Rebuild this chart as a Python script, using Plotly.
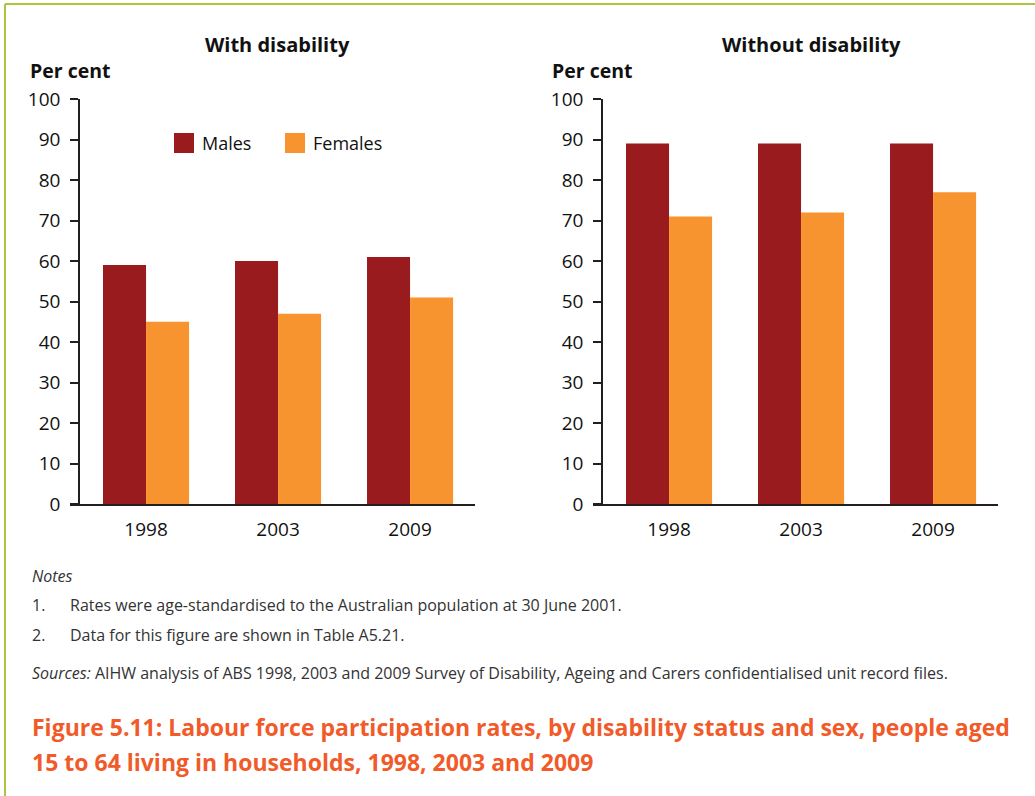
import plotly.graph_objects as go

# ---- data ----
years = ["1998", "2003", "2009"]
with_dis_males = [59, 60, 61]
with_dis_females = [45, 47, 51]
without_dis_males = [89, 89, 89]
without_dis_females = [71, 72, 77]
y_ticks = [0, 10, 20, 30, 40, 50, 60, 70, 80, 90, 100]

W, H = 1035, 796
MALE = "#991b1e"
FEMALE = "#f7942f"
AX = "#231f20"
FONT = "Open Sans"


def px(x):
    return x / W


def py(y):
    return 1 - y / H


fig = go.Figure()
fig.add_trace(go.Bar(x=years, y=with_dis_males, name="Males", marker_color=MALE,
                     xaxis="x", yaxis="y", showlegend=False))
fig.add_trace(go.Bar(x=years, y=with_dis_females, name="Females", marker_color=FEMALE,
                     xaxis="x", yaxis="y", showlegend=False))
fig.add_trace(go.Bar(x=years, y=without_dis_males, name="Males", marker_color=MALE,
                     xaxis="x2", yaxis="y2", showlegend=False))
fig.add_trace(go.Bar(x=years, y=without_dis_females, name="Females", marker_color=FEMALE,
                     xaxis="x2", yaxis="y2", showlegend=False))

xcommon = dict(type="category", range=[-0.576, 2.492], showline=True, linecolor=AX,
               linewidth=1.5, ticks="", showgrid=False, zeroline=False, automargin=False,
               tickfont=dict(family=FONT, size=19, color="#111"), ticklabelstandoff=7)
ycommon = dict(range=[0, 100], tickvals=y_ticks, showline=True, linecolor=AX, linewidth=1.5,
               ticks="outside", ticklen=8, tickwidth=1.5, tickcolor=AX, showgrid=False,
               zeroline=False, anchor="free", automargin=False,
               tickfont=dict(family=FONT, size=19, color="#111"), ticklabelstandoff=6)

fig.update_layout(
    template="none",
    width=W, height=H,
    margin=dict(l=0, r=0, t=0, b=0, pad=0, autoexpand=False),
    paper_bgcolor="white", plot_bgcolor="rgba(0,0,0,0)",
    barmode="group", bargap=0.348, bargroupgap=0,
    showlegend=False,
    xaxis=dict(domain=[px(70), px(475)], anchor="y", **xcommon),
    yaxis=dict(domain=[py(504), py(99)], position=px(79), **ycommon),
    xaxis2=dict(domain=[px(593), px(998)], anchor="y2", **xcommon),
    yaxis2=dict(domain=[py(504), py(99)], position=px(602), **ycommon),
    font=dict(family=FONT, color="#111"),
)

shapes = [
    dict(type="line", xref="paper", yref="paper", x0=px(5), x1=1, y0=py(4), y1=py(4),
         line=dict(color="#a9c63c", width=2)),
    dict(type="line", xref="paper", yref="paper", x0=px(5), x1=px(5), y0=py(4), y1=0,
         line=dict(color="#a9c63c", width=2)),
    # legend swatches
    dict(type="rect", xref="paper", yref="paper", x0=px(174), x1=px(194), y0=py(153), y1=py(133),
         fillcolor=MALE, line=dict(width=0)),
    dict(type="rect", xref="paper", yref="paper", x0=px(285), x1=px(305), y0=py(153), y1=py(133),
         fillcolor=FEMALE, line=dict(width=0)),
]
fig.update_layout(shapes=shapes)

ann = []


def text(x, y, s, size, bold=False, xanchor="left", color="#111", italic=False):
    ann.append(dict(x=px(x), y=py(y), xref="paper", yref="paper", text=s, showarrow=False,
                    xanchor=xanchor, yanchor="middle", align="left",
                    font=dict(family=FONT, size=size, color=color,
                              weight="bold" if bold else "normal",
                              style="italic" if italic else "normal")))


text(277, 44, "With disability", 20, bold=True, xanchor="center")
text(811, 44, "Without disability", 20, bold=True, xanchor="center")
text(28, 70, "Per cent", 19.5, bold=True)
text(550, 70, "Per cent", 19.5, bold=True)
text(200, 143, "Males", 18)
text(311, 143, "Females", 18)

NOTE = "#333"
NS = 16
text(30, 576, "Notes", NS, italic=True, color=NOTE)
text(30, 605, "1.", NS, color=NOTE)
text(68, 605, "Rates were age-standardised to the Australian population at 30 June 2001.", NS, color=NOTE)
text(30, 635, "2.", NS, color=NOTE)
text(68, 635, "Data for this figure are shown in Table A5.21.", NS, color=NOTE)
text(30, 673, "<i>Sources:</i> AIHW analysis of ABS 1998, 2003 and 2009 Survey of Disability, Ageing and Carers confidentialised unit record files.",
     NS, color=NOTE)
CAP = "#f15a29"
text(30, 727, "Figure 5.11: Labour force participation rates, by disability status and sex, people aged", 23, bold=True, color=CAP)
text(30, 762, "15 to 64 living in households, 1998, 2003 and 2009", 23, bold=True, color=CAP)

fig.update_layout(annotations=ann)
fig.write_html("out.html")
